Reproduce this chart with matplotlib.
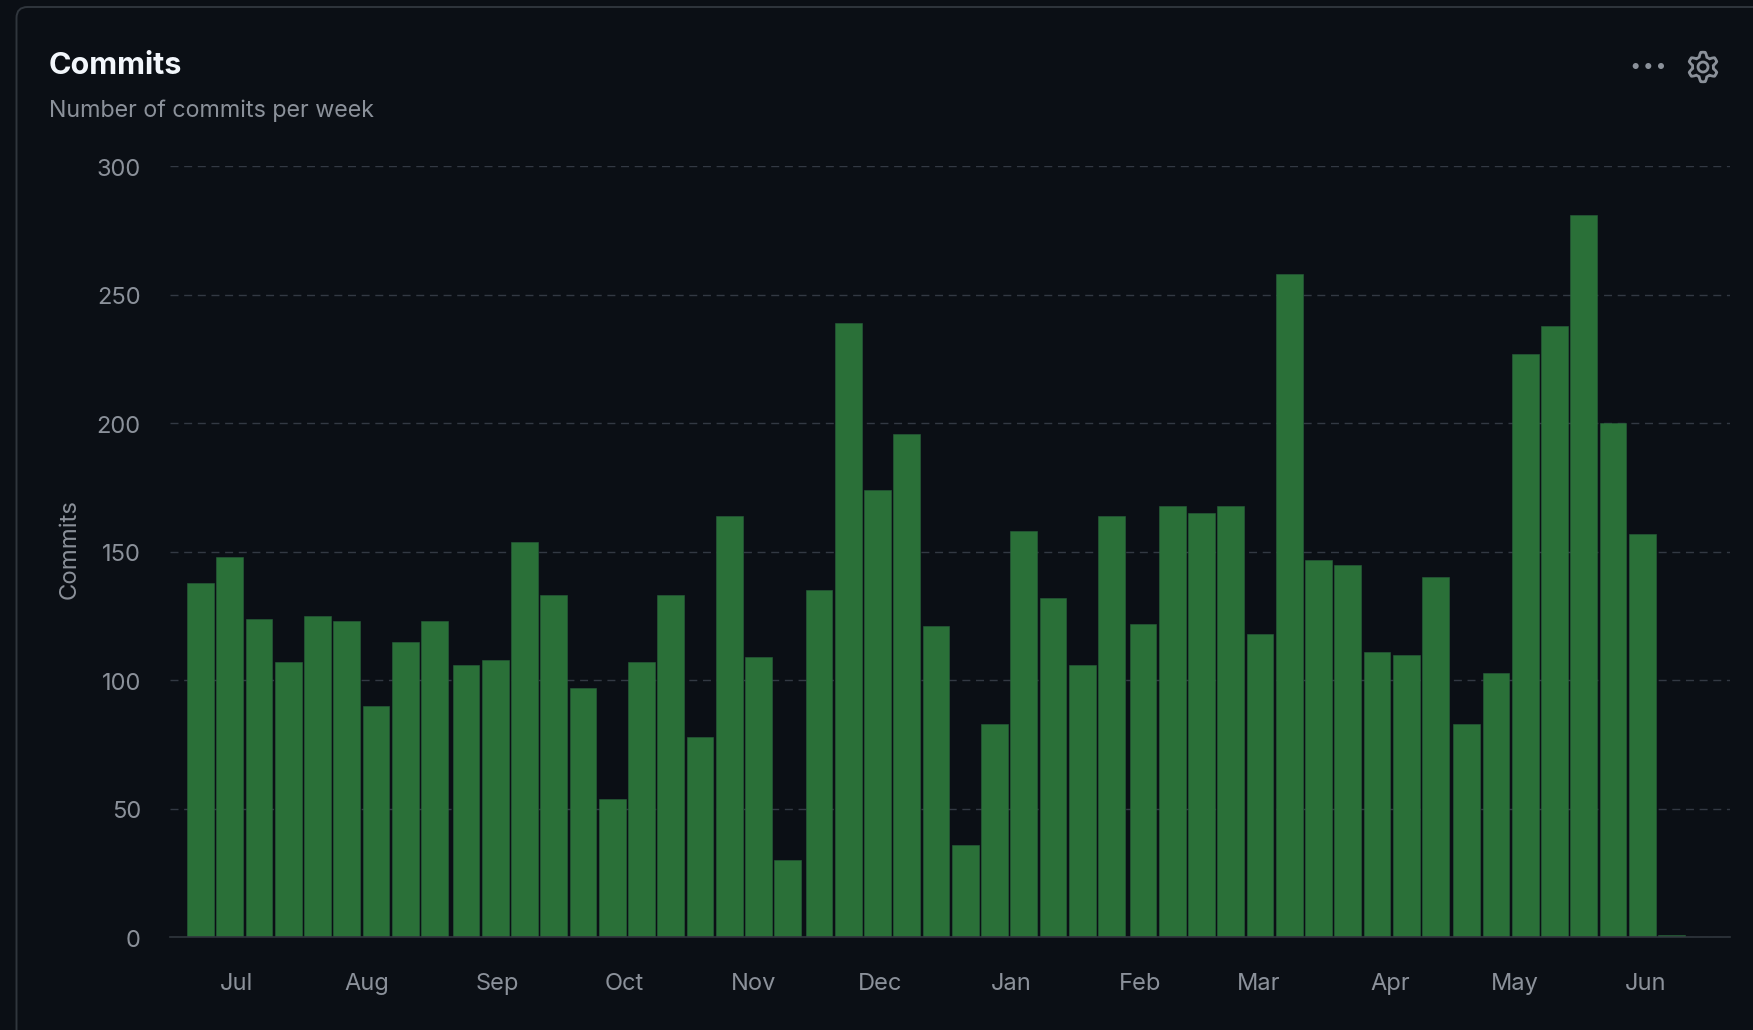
import matplotlib
matplotlib.use('Agg')
import matplotlib.pyplot as plt
import numpy as np
from matplotlib.patches import Circle, FancyBboxPatch, PathPatch
from matplotlib.path import Path
from matplotlib.transforms import ScaledTranslation

# Weekly commit counts
commits = [138, 148, 124, 107, 125, 123, 90, 115, 123, 106, 108, 154, 133,
           97, 54, 107, 133, 78, 164, 109, 30, 135, 239, 174, 196, 121, 36,
           83, 158, 132, 106, 164, 122, 168, 165, 168, 118, 258, 147, 145,
           111, 110, 140, 83, 103, 227, 238, 281, 200, 157, 1]
months = ['Jul', 'Aug', 'Sep', 'Oct', 'Nov', 'Dec', 'Jan', 'Feb', 'Mar', 'Apr', 'May', 'Jun']
month_weeks = [1.23, 5.68, 10.13, 14.46, 18.9, 23.2, 27.7, 32.1, 36.17, 40.65, 44.92, 49.4]
y_ticks = [0, 50, 100, 150, 200, 250, 300]

# Colours
BG = '#0b0f15'
GREEN = '#2a7038'
EDGE = '#27603a'
GRID = '#333943'
BORDER = '#30363d'
MUTED = '#8b919a'
WHITE = '#f2f6fb'

W, H = 1753, 1030
plt.rcParams['font.family'] = ['Inter', 'DejaVu Sans']

fig = plt.figure(figsize=(W/100, H/100), dpi=100, facecolor=BG)

# Full figure layer in pixels for the card, header and icons
bg = fig.add_axes([0, 0, 1, 1], zorder=0)
bg.set_xlim(0, W)
bg.set_ylim(H, 0)
bg.axis('off')
bg.add_patch(FancyBboxPatch((16.5, 7), 1900, 1200, boxstyle='round,pad=0,rounding_size=11',
                            fc=BG, ec=BORDER, lw=1.4))
bg.text(49, 66.5, 'Commits', color=WHITE, fontsize=22, fontweight='bold', ha='left', va='center')
bg.text(49, 110.5, 'Number of commits per week', color=MUTED, fontsize=16.75, ha='left', va='center')
bg.text(70, 549, 'Commits', color=MUTED, fontsize=17.2, rotation=90, ha='center', va='center')

# Three dot menu
for cx in [1635.7, 1648.3, 1661]:
    bg.add_patch(Circle((cx, 66), 3, fc=MUTED, ec='none'))

# Gear icon
ang = np.linspace(0, 2*np.pi, 361)
rad = 12.6 + 2.2*np.clip(np.cos(6*(ang - np.pi/2))*1.6, -1, 1)
gear = Path(np.column_stack([1703 + rad*np.cos(ang), 67 + rad*np.sin(ang)]), closed=False)
bg.add_patch(PathPatch(gear, fc='none', ec=MUTED, lw=2))
bg.add_patch(Circle((1703, 67), 5, fc='none', ec=MUTED, lw=2))

# Chart area
ax = fig.add_axes([170/W, 1 - 937.3/H, 1560/W, 771/H], zorder=1)
ax.patch.set_alpha(0)

# Some weeks sit a little further from the last one
x = np.arange(len(commits), dtype=float)
for g in [9, 21, 32, 43]:
    x[g:] += 0.072

ax.bar(x - 0.015, commits, width=0.915, color=GREEN, edgecolor=EDGE, linewidth=0.4, zorder=3)

ax.set_xlim(-1.06, 52.27)
ax.set_ylim(0, 300)
ax.set_yticks(y_ticks)
ax.set_xticks(month_weeks)
ax.set_xticklabels(months)
ax.tick_params(axis='both', length=0, labelcolor=MUTED, labelsize=17)
ax.tick_params(axis='y', pad=21)
ax.tick_params(axis='x', pad=25.5)

# y labels sit a pixel lower than matplotlib centres them
for lab in ax.get_yticklabels():
    lab.set_transform(lab.get_transform() + ScaledTranslation(0, -1/100, fig.dpi_scale_trans))

ax.grid(True, axis='y', color=GRID, lw=1, linestyle=(0, (5.76, 4.07)), zorder=1)
ax.set_axisbelow(True)
for s in ['top', 'left', 'right']:
    ax.spines[s].set_visible(False)
ax.spines['bottom'].set_color(BORDER)
ax.spines['bottom'].set_linewidth(1.2)
ax.spines['bottom'].set_zorder(4)

fig.savefig('out.png', dpi=100, facecolor=BG)
